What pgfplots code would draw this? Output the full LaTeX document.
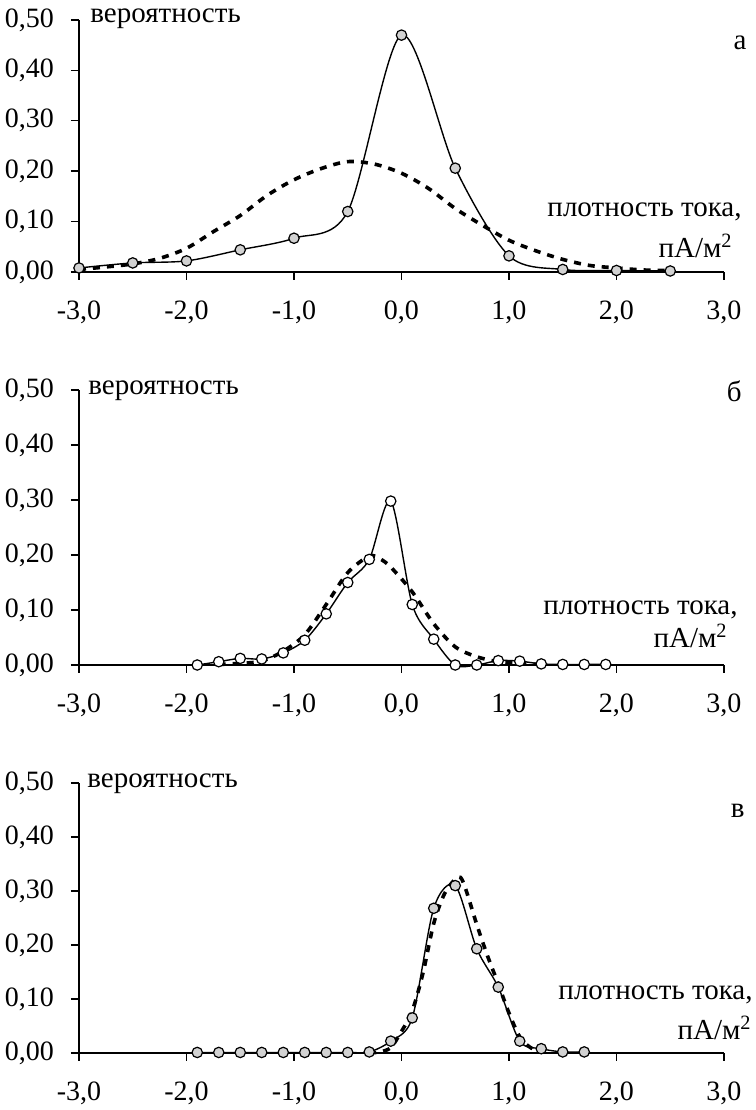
\documentclass[border=0pt]{standalone}
\usepackage{fontspec}
\setmainfont{Liberation Serif}
\usepackage{pgfplots}
\pgfplotsset{compat=1.18}

\pgfplotstableread{
x y
-3.0 0.008
-2.5 0.018
-2.0 0.022
-1.5 0.044
-1.0 0.067
-0.5 0.120
0.0 0.470
0.5 0.206
1.0 0.032
1.5 0.005
2.0 0.003
2.5 0.002
}\solidA
\pgfplotstableread{
x y
-3.0 0.005
-2.75 0.010
-2.5 0.016
-2.25 0.027
-2.0 0.047
-1.75 0.080
-1.5 0.112
-1.25 0.152
-1.0 0.183
-0.75 0.205
-0.5 0.219
-0.25 0.214
0.0 0.196
0.25 0.166
0.5 0.126
0.75 0.093
1.0 0.063
1.25 0.042
1.5 0.025
1.75 0.013
2.0 0.008
2.25 0.004
2.5 0.003
}\dashA
\pgfplotstableread{
x y
-1.9 0.000
-1.7 0.006
-1.5 0.012
-1.3 0.011
-1.1 0.022
-0.9 0.045
-0.7 0.093
-0.5 0.150
-0.3 0.192
-0.1 0.298
0.1 0.110
0.3 0.047
0.5 0.000
0.7 0.000
0.9 0.008
1.1 0.007
1.3 0.002
1.5 0.001
1.7 0.001
1.9 0.001
}\solidB
\pgfplotstableread{
x y
-1.7 0.001
-1.5 0.003
-1.3 0.007
-1.1 0.025
-0.9 0.055
-0.7 0.110
-0.5 0.168
-0.3 0.198
-0.2 0.193
-0.1 0.178
0.1 0.133
0.3 0.075
0.5 0.033
0.7 0.015
0.9 0.006
1.1 0.003
1.3 0.001
}\dashB
\pgfplotstableread{
x y
-1.9 0.001
-1.7 0.001
-1.5 0.001
-1.3 0.001
-1.1 0.001
-0.9 0.001
-0.7 0.001
-0.5 0.001
-0.3 0.002
-0.1 0.022
0.1 0.065
0.3 0.268
0.5 0.310
0.7 0.193
0.9 0.122
1.1 0.022
1.3 0.008
1.5 0.002
1.7 0.002
}\solidC
\pgfplotstableread{
x y
-0.3 0.000
-0.2 0.002
-0.1 0.010
0.0 0.040
0.1 0.078
0.2 0.148
0.3 0.240
0.4 0.295
0.5 0.322
0.55 0.325
0.6 0.302
0.7 0.238
0.8 0.180
0.9 0.128
1.0 0.074
1.1 0.030
1.2 0.010
1.3 0.003
1.4 0.001
}\dashC

\pgfplotsset{
  panel/.style={
    scale only axis, width=322.5pt,
    xmin=-3, xmax=3, ymin=0, ymax=0.5,
    axis x line=bottom, axis y line=left,
    axis line style={-, line width=0.8pt},
    xtick={-3,-2,-1,0,1,2,3},
    xticklabels={{-3,0},{-2,0},{-1,0},{0,0},{1,0},{2,0},{3,0}},
    ytick={0,0.1,0.2,0.3,0.4,0.5},
    yticklabels={{0,00},{0,10},{0,20},{0,30},{0,40},{0,50}},
    tick align=outside, major tick length=4pt,
    tick style={black, line width=0.7pt},
    ticklabel style={font=\fontsize{14}{16}\selectfont},
    xticklabel style={yshift=-7pt},
    yticklabel style={xshift=-5pt},
    clip=false,
  },
  sol/.style={black, line width=0.7pt, smooth, mark=*, mark size=2.6pt,
    mark options={fill=#1, draw=black, line width=0.6pt, solid}},
  dsh/.style={black, line width=1.8pt, smooth, dash pattern=on 3.5pt off 3.5pt, no markers},
}

\newcommand{\lab}{\fontsize{14.5}{17}\selectfont}

\begin{document}
\begin{tikzpicture}[x=1pt,y=1pt]
\path[use as bounding box] (0,0) rectangle (378,555);

\begin{axis}[panel, at={(39.5pt,419pt)}, anchor=south west, height=126pt]
\addplot[dsh] table {\dashA};
\addplot[sol=gray!35] table {\solidA};
\end{axis}

\begin{axis}[panel, at={(39.5pt,222.5pt)}, anchor=south west, height=137.5pt]
\addplot[dsh] table {\dashB};
\addplot[sol=white] table {\solidB};
\end{axis}

\begin{axis}[panel, at={(39.5pt,28.5pt)}, anchor=south west, height=135pt]
\addplot[dsh] table {\dashC};
\addplot[sol=gray!35] table {\solidC};
\end{axis}

\begin{scope}[every node/.style={inner sep=0pt, font=\lab}]
\node[anchor=base west] at (45,543.5) {вероятность};
\node[anchor=base east] at (373.5,530) {а};
\node[anchor=base east] at (371,446.5) {плотность тока,};
\node[anchor=base east] at (366.5,426) {пА/м\textsuperscript{2}};

\node[anchor=base west] at (44,357.5) {вероятность};
\node[anchor=base east] at (371,354) {б};
\node[anchor=base east] at (369,247.5) {плотность тока,};
\node[anchor=base east] at (364,231) {пА/м\textsuperscript{2}};

\node[anchor=base west] at (43.5,161) {вероятность};
\node[anchor=base east] at (372.5,146) {в};
\node[anchor=base east] at (376.5,55) {плотность тока,};
\node[anchor=base east] at (376,35) {пА/м\textsuperscript{2}};
\end{scope}
\end{tikzpicture}
\end{document}
